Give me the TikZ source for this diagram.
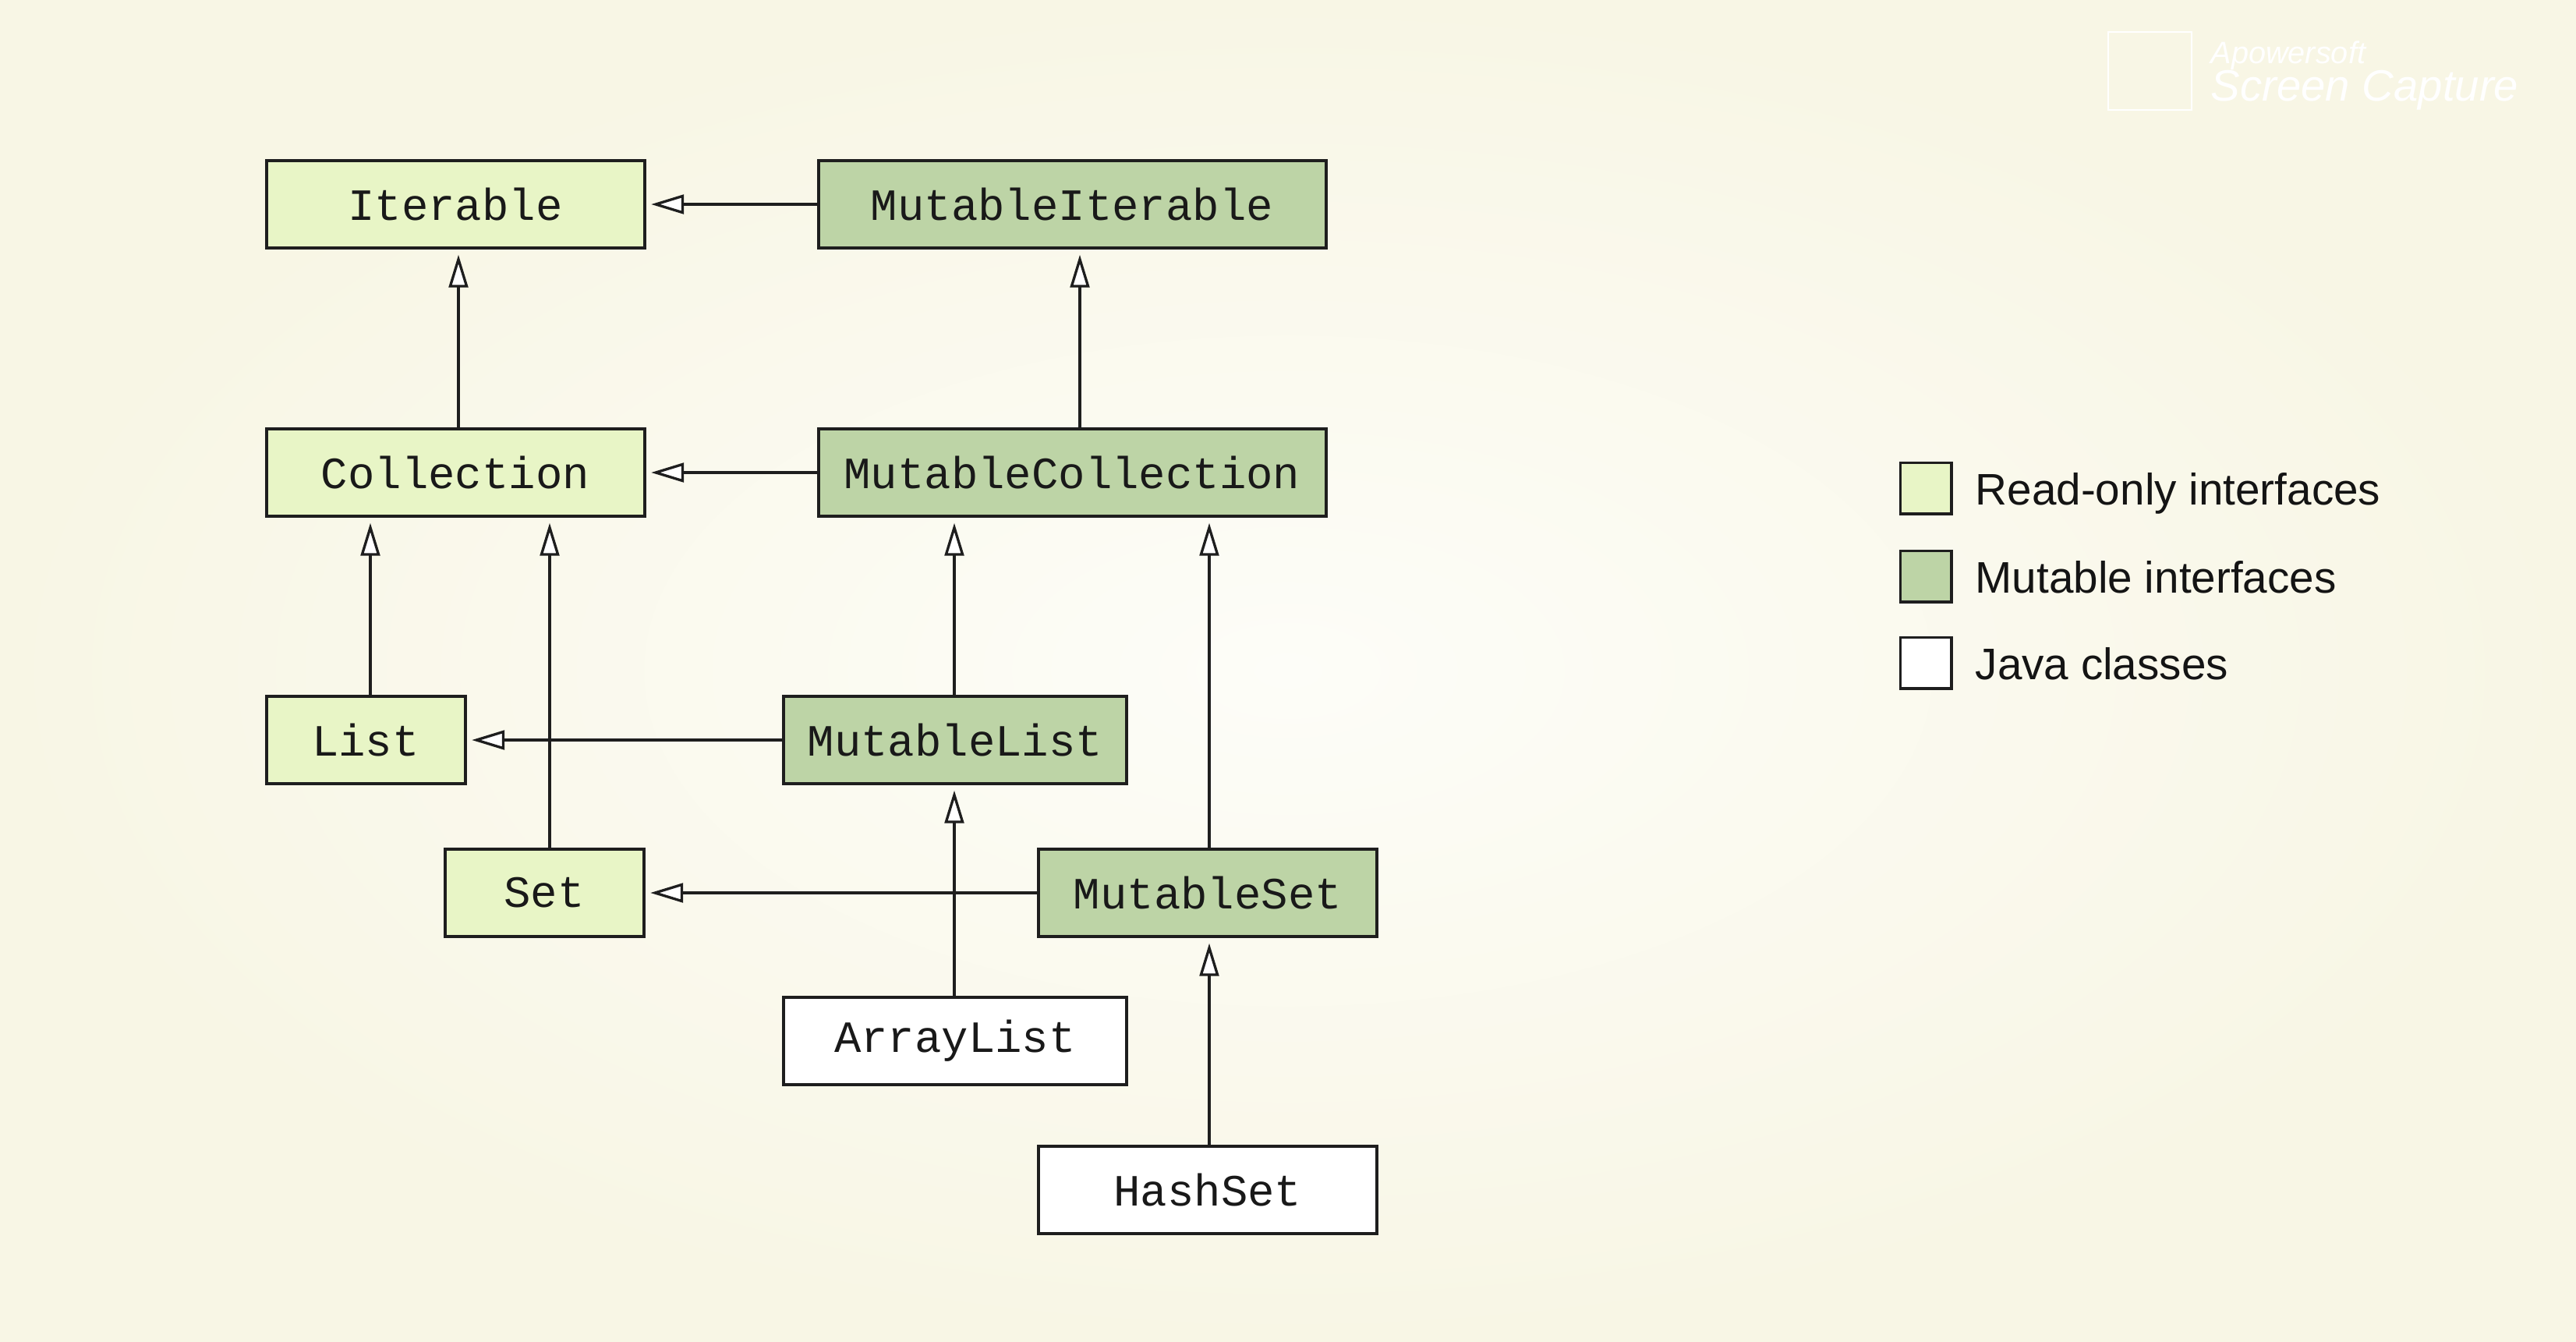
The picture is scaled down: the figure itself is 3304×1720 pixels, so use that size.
\documentclass[tikz,border=0pt]{standalone}
\usepackage{fontspec}
\usetikzlibrary{arrows.meta}
\newfontfamily\monof{Liberation Mono}
\newfontfamily\sansf{Liberation Sans}
\definecolor{bgin}{HTML}{FDFDF8}
\definecolor{bgout}{HTML}{F8F6E5}
\definecolor{rofill}{HTML}{E8F5C6}
\definecolor{mufill}{HTML}{BDD4A6}
\definecolor{edge}{HTML}{1E1E1E}
\tikzset{
  box/.style={draw=edge, line width=1.2pt, rectangle, inner sep=0pt,
    minimum height=33.6pt, font=\monof\fontsize{17.2}{20}\selectfont, text=black!90},
  robox/.style={box, fill=rofill},
  mubox/.style={box, fill=mufill},
  jbox/.style={box, fill=white},
  inh/.style={draw=edge, line width=1pt,
    -{Triangle[length=12.6pt, width=7.4pt, fill=white, line width=1pt]},
    shorten >=2pt},
  legbox/.style={draw=edge, line width=1.1pt, minimum size=19.6pt, inner sep=0pt},
  legtext/.style={anchor=base west, inner sep=0pt, font=\sansf\fontsize{17}{20}\selectfont, text=black!92},
  wm/.style={text=white, inner sep=0pt, anchor=base west}
}
\begin{document}
\begin{tikzpicture}[x=0.3pt, y=-0.3pt]
\useasboundingbox (0,0) rectangle (3304,1720);
\shade[inner color=bgin, outer color=bgout] (0,0) rectangle (3304,1720);

% watermark
\draw[white, line width=0.5pt] (2704,41) rectangle (2811,141);
\node[wm, font=\sansf\itshape\fontsize{11.9}{13}\selectfont] (wm1) at (2835,81) {Apowersoft};
\node[wm, font=\sansf\itshape\fontsize{16.9}{18}\selectfont] (wm2) at (2835,129) {Screen Capture};

% nodes
\node[robox, minimum width=145.5pt] (it) at (584,262) {Iterable};
\node[mubox, minimum width=195.3pt] (mi) at (1375,262) {MutableIterable};
\node[robox, minimum width=145.5pt] (co) at (584,606) {Collection};
\node[mubox, minimum width=195.3pt] (mc) at (1375,606) {MutableCollection};
\node[robox, minimum width=76.5pt] (li) at (469,949) {List};
\node[mubox, minimum width=132pt] (ml) at (1225,949) {MutableList};
\node[robox, minimum width=76.5pt] (se) at (698,1145) {Set};
\node[mubox, minimum width=130.2pt] (ms) at (1549,1145) {MutableSet};
\node[jbox, minimum width=132pt] (al) at (1225,1335) {ArrayList};
\node[jbox, minimum width=130.2pt] (hs) at (1549,1526) {HashSet};

% line x positions
\coordinate (xit) at (588,0);
\coordinate (xmi) at (1385,0);
\coordinate (xli) at (475,0);
\coordinate (xse) at (705,0);
\coordinate (xml) at (1224,0);
\coordinate (xms) at (1551,0);

% connectors
\draw[inh] (mi.west) -- (it.east);
\draw[inh] (mc.west) -- (co.east);
\draw[inh] (co.north -| xit) -- (it.south -| xit);
\draw[inh] (mc.north -| xmi) -- (mi.south -| xmi);
\draw[inh] (li.north -| xli) -- (co.south -| xli);
\draw[inh] (se.north -| xse) -- (co.south -| xse);
\draw[inh] (ml.north -| xml) -- (mc.south -| xml);
\draw[inh] (ms.north -| xms) -- (mc.south -| xms);
\draw[inh] (ml.west) -- (li.east);
\draw[inh] (ms.west) -- (se.east);
\draw[inh] (al.north -| xml) -- (ml.south -| xml);
\draw[inh] (hs.north -| xms) -- (ms.south -| xms);

% legend
\node[legbox, fill=rofill] (l1) at (2470,626) {};
\node[legbox, fill=mufill] (l2) at (2470,739) {};
\node[legbox, fill=white] (l3) at (2470,850) {};
\node[legtext] (t1) at (2533,647) {Read-only interfaces};
\node[legtext] (t2) at (2533,760) {Mutable interfaces};
\node[legtext] (t3) at (2533,871) {Java classes};
\end{tikzpicture}
\end{document}
